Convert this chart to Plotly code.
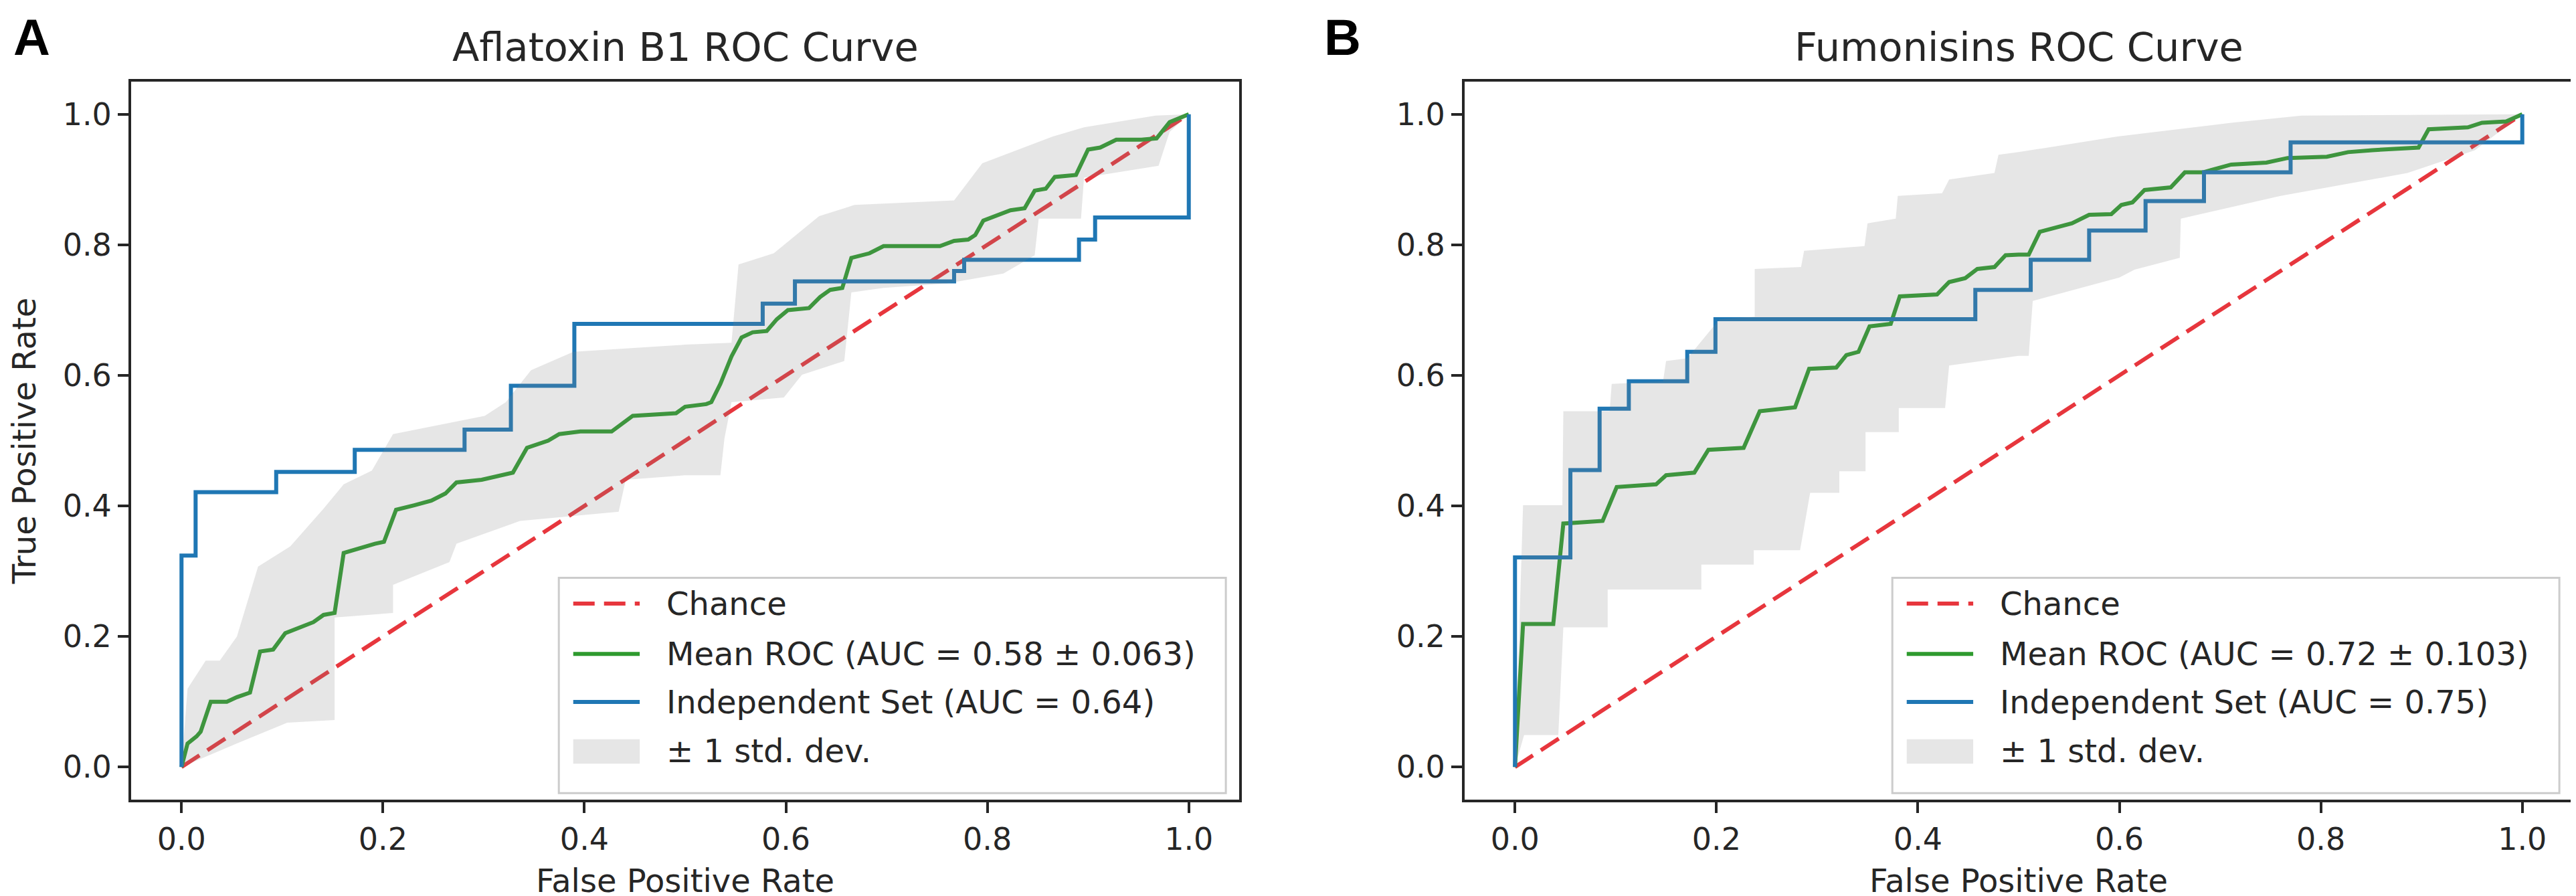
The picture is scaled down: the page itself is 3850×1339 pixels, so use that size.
import plotly.graph_objects as go

# ---------------- Panel A: Aflatoxin B1 ----------------
afla_mean_fpr = [0, 0.006, 0.015, 0.019, 0.029, 0.045, 0.055, 0.068, 0.078, 0.091, 0.103, 0.115,
                 0.131, 0.141, 0.152, 0.161, 0.175, 0.192, 0.201, 0.213, 0.231, 0.248, 0.262, 0.273,
                 0.298, 0.319, 0.329, 0.343, 0.364, 0.375, 0.396, 0.427, 0.44, 0.448, 0.491, 0.5,
                 0.521, 0.526, 0.535, 0.546, 0.556, 0.567, 0.581, 0.591, 0.602, 0.623, 0.634, 0.644,
                 0.656, 0.665, 0.683, 0.697, 0.753, 0.767, 0.781, 0.788, 0.796, 0.809, 0.823, 0.837,
                 0.847, 0.858, 0.867, 0.888, 0.9, 0.912, 0.928, 0.953, 0.968, 0.981, 1.0]
afla_mean_tpr = [0, 0.036, 0.047, 0.054, 0.1, 0.1, 0.107, 0.114, 0.177, 0.18, 0.205, 0.212,
                 0.222, 0.233, 0.236, 0.328, 0.335, 0.342, 0.345, 0.394, 0.401, 0.408, 0.419, 0.436,
                 0.44, 0.447, 0.451, 0.489, 0.5, 0.51, 0.514, 0.514, 0.528, 0.538, 0.542, 0.552,
                 0.556, 0.559, 0.587, 0.629, 0.658, 0.666, 0.668, 0.686, 0.7, 0.703, 0.72, 0.731,
                 0.734, 0.78, 0.787, 0.798, 0.798, 0.806, 0.808, 0.815, 0.837, 0.844, 0.853, 0.856,
                 0.883, 0.886, 0.904, 0.907, 0.946, 0.949, 0.961, 0.961, 0.963, 0.988, 1.0]

afla_indep_fpr = [0, 0, 0.014, 0.014, 0.094, 0.094, 0.172, 0.172, 0.281, 0.281, 0.327, 0.327,
                  0.390, 0.390, 0.577, 0.577, 0.609, 0.609, 0.767, 0.767, 0.777, 0.777, 0.891,
                  0.891, 0.907, 0.907, 1.0, 1.0]
afla_indep_tpr = [0, 0.324, 0.324, 0.421, 0.421, 0.452, 0.452, 0.486, 0.486, 0.517, 0.517, 0.584,
                  0.584, 0.679, 0.679, 0.710, 0.710, 0.744, 0.744, 0.760, 0.760, 0.777, 0.777,
                  0.808, 0.808, 0.842, 0.842, 1.0]

afla_upper_fpr = [0, 0.006, 0.024, 0.038, 0.055, 0.076, 0.108, 0.14, 0.161, 0.189, 0.21, 0.301,
                  0.322, 0.347, 0.389, 0.5, 0.546, 0.553, 0.588, 0.633, 0.668, 0.767, 0.795, 0.865,
                  0.896, 0.967, 1.0]
afla_upper_tpr = [0, 0.12, 0.163, 0.163, 0.2, 0.307, 0.338, 0.394, 0.433, 0.454, 0.51, 0.538,
                  0.559, 0.608, 0.636, 0.647, 0.65, 0.77, 0.787, 0.844, 0.861, 0.868, 0.925, 0.966,
                  0.98, 0.998, 1.0]
afla_lower_fpr = [0, 0.055, 0.105, 0.152, 0.152, 0.21, 0.21, 0.266, 0.273, 0.336, 0.434, 0.441,
                  0.5, 0.535, 0.539, 0.546, 0.598, 0.616, 0.658, 0.665, 0.697, 0.76, 0.816, 0.847,
                  0.851, 0.893, 0.896, 0.97, 0.981, 1.0]
afla_lower_tpr = [0, 0.036, 0.068, 0.072, 0.229, 0.236, 0.279, 0.314, 0.342, 0.377, 0.391, 0.44,
                  0.447, 0.447, 0.503, 0.559, 0.566, 0.601, 0.622, 0.727, 0.734, 0.741, 0.756,
                  0.784, 0.84, 0.84, 0.903, 0.921, 0.973, 1.0]

# ---------------- Panel B: Fumonisins ----------------
fumo_mean_fpr = [0, 0.008, 0.038, 0.048, 0.087, 0.101, 0.14, 0.15, 0.178, 0.192, 0.227, 0.243,
                 0.278, 0.292, 0.319, 0.329, 0.341, 0.352, 0.373, 0.382, 0.419, 0.431, 0.447,
                 0.459, 0.476, 0.487, 0.5, 0.51, 0.521, 0.535, 0.553, 0.57, 0.592, 0.602, 0.613,
                 0.625, 0.651, 0.665, 0.683, 0.711, 0.746, 0.767, 0.806, 0.827, 0.851, 0.897,
                 0.907, 0.946, 0.96, 0.984, 1.0]
fumo_mean_tpr = [0, 0.219, 0.219, 0.373, 0.377, 0.429, 0.433, 0.447, 0.451, 0.486, 0.489, 0.545,
                 0.551, 0.61, 0.612, 0.631, 0.636, 0.675, 0.679, 0.721, 0.724, 0.743, 0.749,
                 0.763, 0.766, 0.784, 0.785, 0.785, 0.82, 0.826, 0.833, 0.846, 0.847, 0.861, 0.865,
                 0.884, 0.888, 0.911, 0.911, 0.923, 0.926, 0.933, 0.935, 0.942, 0.945, 0.949,
                 0.977, 0.98, 0.987, 0.989, 1.0]

fumo_indep_fpr = [0, 0, 0.055, 0.055, 0.084, 0.084, 0.113, 0.113, 0.171, 0.171, 0.199, 0.199,
                  0.457, 0.457, 0.512, 0.512, 0.57, 0.57, 0.626, 0.626, 0.684, 0.684, 0.77, 0.77,
                  1.0, 1.0]
fumo_indep_tpr = [0, 0.321, 0.321, 0.455, 0.455, 0.549, 0.549, 0.591, 0.591, 0.636, 0.636, 0.686,
                  0.686, 0.731, 0.731, 0.777, 0.777, 0.822, 0.822, 0.867, 0.867, 0.911, 0.911,
                  0.957, 0.957, 1.0]

fumo_upper_fpr = [0, 0.008, 0.047, 0.048, 0.094, 0.096, 0.147, 0.15, 0.171, 0.203, 0.238, 0.238,
                  0.284, 0.287, 0.347, 0.35, 0.378, 0.38, 0.424, 0.431, 0.476, 0.48, 0.5, 0.598,
                  0.711, 0.781, 1.0]
fumo_upper_tpr = [0, 0.401, 0.401, 0.545, 0.545, 0.587, 0.591, 0.622, 0.626, 0.686, 0.69, 0.763,
                  0.766, 0.791, 0.798, 0.833, 0.84, 0.875, 0.879, 0.9, 0.91, 0.938, 0.942, 0.966,
                  0.987, 0.998, 1.0]
fumo_lower_fpr = [0, 0.009, 0.043, 0.048, 0.092, 0.092, 0.185, 0.185, 0.237, 0.237, 0.283, 0.293,
                  0.322, 0.322, 0.348, 0.348, 0.381, 0.381, 0.427, 0.431, 0.5, 0.51, 0.514, 0.6,
                  0.615, 0.66, 0.661, 0.76, 0.886, 0.953, 1.0]
fumo_lower_tpr = [0, 0.049, 0.049, 0.214, 0.214, 0.272, 0.272, 0.31, 0.31, 0.332, 0.332, 0.42,
                  0.42, 0.453, 0.453, 0.513, 0.513, 0.55, 0.55, 0.615, 0.63, 0.63, 0.714, 0.75,
                  0.762, 0.78, 0.84, 0.875, 0.91, 0.945, 1.0]

chance_x = [0, 1]
chance_y = [0, 1]
tick_vals = [0.0, 0.2, 0.4, 0.6, 0.8, 1.0]

panel_titles = ["Aflatoxin B1 ROC Curve", "Fumonisins ROC Curve"]
panel_letters = ["A", "B"]
legend_labels = [
    ["Chance", "Mean ROC (AUC = 0.58 ± 0.063)", "Independent Set (AUC = 0.64)", "± 1 std. dev."],
    ["Chance", "Mean ROC (AUC = 0.72 ± 0.103)", "Independent Set (AUC = 0.75)", "± 1 std. dev."],
]

RED = "rgba(228,32,40,0.9)"
GREEN = "#2e9a2e"
BLUE = "#1f77b4"
BAND = "rgba(128,128,128,0.2)"
INK = "#262626"
FONT = "DejaVu Sans"
DASH = "32px,14px"

panels = [
    (afla_mean_fpr, afla_mean_tpr, afla_indep_fpr, afla_indep_tpr,
     afla_upper_fpr, afla_upper_tpr, afla_lower_fpr, afla_lower_tpr),
    (fumo_mean_fpr, fumo_mean_tpr, fumo_indep_fpr, fumo_indep_tpr,
     fumo_upper_fpr, fumo_upper_tpr, fumo_lower_fpr, fumo_lower_tpr),
]

fig = go.Figure()

for i, (mfpr, mtpr, ifpr, itpr, ufpr, utpr, lfpr, ltpr) in enumerate(panels):
    xa = "x" if i == 0 else "x2"
    ya = "y" if i == 0 else "y2"
    fig.add_trace(go.Scatter(x=chance_x, y=chance_y, mode="lines", xaxis=xa, yaxis=ya,
                             line=dict(color=RED, width=6, dash=DASH), showlegend=False))
    fig.add_trace(go.Scatter(x=mfpr, y=mtpr, mode="lines", xaxis=xa, yaxis=ya,
                             line=dict(color=GREEN, width=6), showlegend=False))
    fig.add_trace(go.Scatter(x=ifpr, y=itpr, mode="lines", xaxis=xa, yaxis=ya,
                             line=dict(color=BLUE, width=6), showlegend=False))
    # std band as one closed polygon: upper edge forward, lower edge back
    fig.add_trace(go.Scatter(x=ufpr + lfpr[::-1], y=utpr + ltpr[::-1], mode="lines",
                             xaxis=xa, yaxis=ya, fill="toself", fillcolor=BAND,
                             line=dict(width=0, color=BAND), showlegend=False))

# hand-drawn legends, matplotlib style
rows = [0.273, 0.203, 0.136, 0.068]
for i, labels in enumerate(legend_labels):
    xr = "x domain" if i == 0 else "x2 domain"
    yr = "y domain" if i == 0 else "y2 domain"
    fig.add_shape(type="rect", xref=xr, yref=yr, x0=0.386, x1=0.988, y0=0.009, y1=0.309,
                  line=dict(color="#cccccc", width=3), fillcolor="rgba(255,255,255,0.8)",
                  layer="above")
    styles = [dict(color=RED, width=6, dash=DASH), dict(color=GREEN, width=6),
              dict(color=BLUE, width=6)]
    for r, st in zip(rows[:3], styles):
        fig.add_shape(type="line", xref=xr, yref=yr, x0=0.399, x1=0.459, y0=r, y1=r,
                      line=st, layer="above")
    fig.add_shape(type="rect", xref=xr, yref=yr, x0=0.399, x1=0.459, y0=0.050, y1=0.084,
                  line=dict(width=0), fillcolor=BAND, layer="above")
    for r, lab in zip(rows, labels):
        fig.add_annotation(text=lab, xref=xr, yref=yr, x=0.482, y=r, xanchor="left",
                           yanchor="middle", showarrow=False,
                           font=dict(family=FONT, size=48, color=INK))

# panel titles and letters
title_x = [(188 + 1844) / 2 / 3850, (2181 + 3837) / 2 / 3850]
letter_x = [0.0026, 0.5115]
for i in range(2):
    fig.add_annotation(text=panel_titles[i], xref="paper", yref="paper", x=title_x[i], y=0.9532,
                       xanchor="center", yanchor="middle", showarrow=False,
                       font=dict(family=FONT, size=59, color=INK))
    fig.add_annotation(text="<b>%s</b>" % panel_letters[i], xref="paper", yref="paper",
                       x=letter_x[i], y=0.998, xanchor="left", yanchor="top", showarrow=False,
                       font=dict(family="Liberation Sans", size=76, color="#000000"))

axis_style = dict(range=[-0.05, 1.05], tickvals=tick_vals, tickformat=".1f", showgrid=False,
                  zeroline=False, showline=True, mirror=True, linecolor=INK, linewidth=4,
                  ticks="outside", ticklen=16, tickwidth=4, tickcolor=INK,
                  tickfont=dict(family=FONT, size=46, color=INK))

xtitle = dict(text="False Positive Rate", font=dict(family=FONT, size=48, color=INK), standoff=20)
fig.update_layout(
    width=3850, height=1339,
    margin=dict(l=0, r=0, t=0, b=0),
    plot_bgcolor="white", paper_bgcolor="white",
    xaxis=dict(axis_style, domain=[0.04883, 0.47896], anchor="y", title=xtitle),
    yaxis=dict(axis_style, domain=[0.11352, 0.91486], anchor="x",
               title=dict(text="True Positive Rate", font=dict(family=FONT, size=48, color=INK),
                          standoff=26)),
    xaxis2=dict(axis_style, domain=[0.56649, 0.99662], anchor="y2", title=xtitle),
    yaxis2=dict(axis_style, domain=[0.11352, 0.91486], anchor="x2"),
)

fig.write_html("out.html")
